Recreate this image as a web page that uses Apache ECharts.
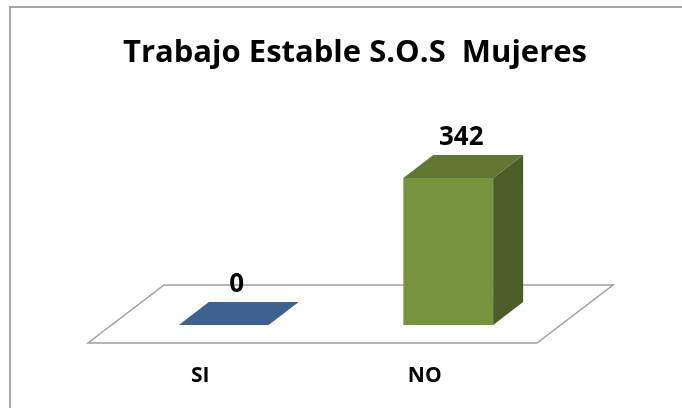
<!DOCTYPE html>
<html>
<head>
<meta charset="utf-8">
<script src="https://cdn.jsdelivr.net/npm/echarts@6/dist/echarts.min.js"></script>
<style>
  html, body { margin: 0; padding: 0; background: #fff; }
  #main { width: 682px; height: 408px; }
</style>
</head>
<body>
<div id="main"></div>
<script>
var categories = ['SI', 'NO'];
var values = [0, 342];
var barColors = [
    { front: '#3d6190', top: '#3d6190', side: '#2f4c72' },
    { front: '#77933c', top: '#5f7731', side: '#4b5e27' }
];

var myChart = echarts.init(document.getElementById('main'));

// profundidad del piso y de las barras (efecto 3D)
var FLOOR_DX = 76, FLOOR_DY = -58;
var BAR_DX = 30, BAR_DY = -23;
var SHIFT_DX = 23.5, SHIFT_DY = -18;

function renderFloor(params, api) {
    var cs = params.coordSys;
    var x0 = cs.x, x1 = cs.x + cs.width, y0 = cs.y + cs.height;
    return {
        type: 'polygon',
        shape: {
            points: [[x0, y0], [x1, y0], [x1 + FLOOR_DX, y0 + FLOOR_DY], [x0 + FLOOR_DX, y0 + FLOOR_DY]]
        },
        style: { fill: '#fff', stroke: '#a0a0a0', lineWidth: 1.5 },
        silent: true
    };
}

function renderBar(params, api) {
    var idx = api.value(0);
    var top = api.coord([idx, api.value(1)]);
    var base = api.coord([idx, 0]);
    var w = api.size([1, 0])[0] * 0.4;
    var c = barColors[idx];
    var xl = top[0] - w / 2 + SHIFT_DX, xr = xl + w;
    var yb = base[1] + SHIFT_DY, yt = top[1] + SHIFT_DY;
    var children = [];
    if (yb - yt > 0.5) {
        children.push({
            type: 'polygon',
            shape: { points: [[xl, yt], [xr, yt], [xr, yb], [xl, yb]] },
            style: { fill: c.front }
        });
        children.push({
            type: 'polygon',
            shape: { points: [[xr, yt], [xr + BAR_DX, yt + BAR_DY], [xr + BAR_DX, yb + BAR_DY], [xr, yb]] },
            style: { fill: c.side }
        });
    }
    children.push({
        type: 'polygon',
        shape: { points: [[xl, yt], [xr, yt], [xr + BAR_DX, yt + BAR_DY], [xl + BAR_DX, yt + BAR_DY]] },
        style: { fill: c.top }
    });
    // etiqueta del valor
    children.push({
        type: 'text',
        style: {
            text: String(api.value(1)),
            x: (xl + xr) / 2 + BAR_DX / 2 - 2,
            y: yt + BAR_DY - 4,
            align: 'center',
            verticalAlign: 'bottom',
            fontFamily: 'Open Sans',
            fontWeight: 'bold',
            fontSize: 26,
            fill: '#000'
        }
    });
    return { type: 'group', children: children };
}

var barData = values.map(function (v, i) { return [i, v]; });

var myOption = {
    animation: false,
    backgroundColor: '#fff',
    title: {
        text: 'Trabajo Estable S.O.S  Mujeres',
        left: 118,
        top: 33,
        textStyle: { fontFamily: 'Open Sans', fontWeight: 'bold', fontSize: 31, color: '#000' }
    },
    graphic: [{
        type: 'rect',
        shape: { x: 10, y: 7, width: 700, height: 430 },
        style: { fill: 'none', stroke: '#a6a6a6', lineWidth: 2 },
        silent: true
    }],
    grid: { left: 88, right: 145, top: 171, bottom: 65 },
    xAxis: {
        type: 'category',
        data: categories,
        axisLine: { show: false },
        axisTick: { show: false },
        axisLabel: {
            margin: 23,
            fontFamily: 'Open Sans',
            fontWeight: 'bold',
            fontSize: 21,
            color: '#000'
        }
    },
    yAxis: {
        type: 'value',
        min: 0,
        max: 400,
        show: false,
        splitLine: { show: false }
    },
    series: [
        {
            type: 'custom',
            name: 'piso',
            renderItem: renderFloor,
            data: [[0, 0]],
            z: 1
        },
        {
            type: 'custom',
            name: 'Mujeres',
            renderItem: renderBar,
            encode: { x: 0, y: 1 },
            data: barData,
            z: 2
        }
    ]
};

myChart.setOption(myOption);
</script>
</body>
</html>
